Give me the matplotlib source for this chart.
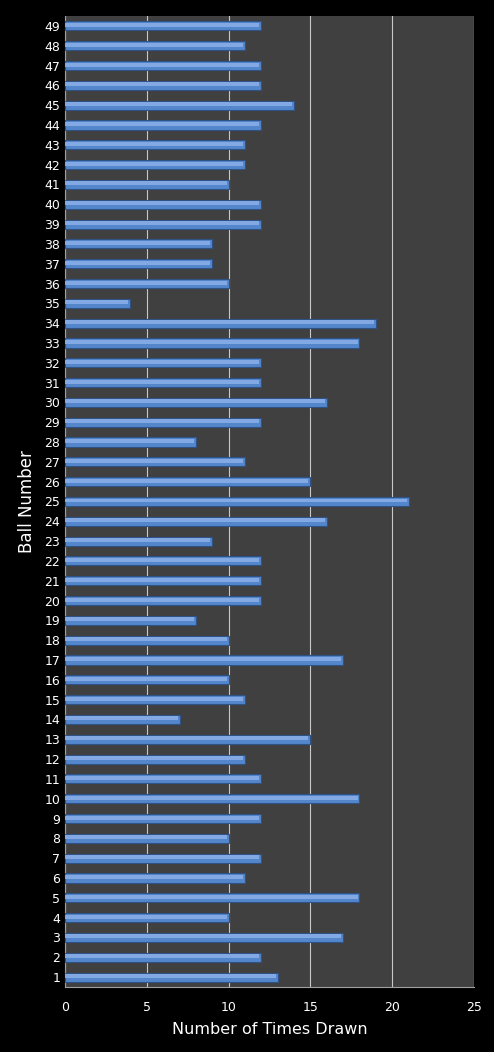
import numpy as np
import matplotlib
matplotlib.use("Agg")
import matplotlib.pyplot as plt

# ball numbers and how often each was drawn
balls = list(range(1, 50))
drawn = [13, 12, 17, 10, 18, 11, 12, 10, 12, 18,
         12, 11, 15, 7, 11, 10, 17, 10, 8, 12,
         12, 12, 9, 16, 21, 15, 11, 8, 12, 16,
         12, 12, 18, 19, 4, 10, 9, 9, 12, 12,
         10, 11, 11, 12, 14, 12, 12, 11, 12]

fig = plt.figure(figsize=(4.94, 10.52), dpi=100, facecolor="black")
ax = fig.add_axes([0.1316, 0.0618, 0.8279, 0.923])
ax.set_facecolor("#404040")

# main bar + softer highlight stripe to fake the excel gradient
ax.barh(balls, drawn, height=0.46, color="#5486cc", edgecolor="#2f5287", linewidth=0.8, zorder=3)
ax.barh(np.array(balls) + 0.05, np.array(drawn) - 0.12, height=0.2, color="#82a9e3", linewidth=0, zorder=4)

ax.set_xlim(0, 25)
ax.set_ylim(0.5, 49.5)
ax.set_xticks([0, 5, 10, 15, 20, 25])
ax.set_yticks(balls)
ax.grid(axis="x", color="#c8c8c8", linewidth=0.8, zorder=1)
ax.tick_params(colors="white", labelsize=9, length=0)
ax.tick_params(axis="x", pad=10)
for s in ["top", "right"]:
    ax.spines[s].set_visible(False)
ax.spines["left"].set_color("#a0a0a0")
ax.spines["bottom"].set_color("#a0a0a0")

ax.set_xlabel("Number of Times Drawn", color="white", fontsize=11.5, labelpad=6)
ax.set_ylabel("Ball Number", color="white", fontsize=12, labelpad=6)

fig.savefig("out.png", dpi=100, facecolor="black")
